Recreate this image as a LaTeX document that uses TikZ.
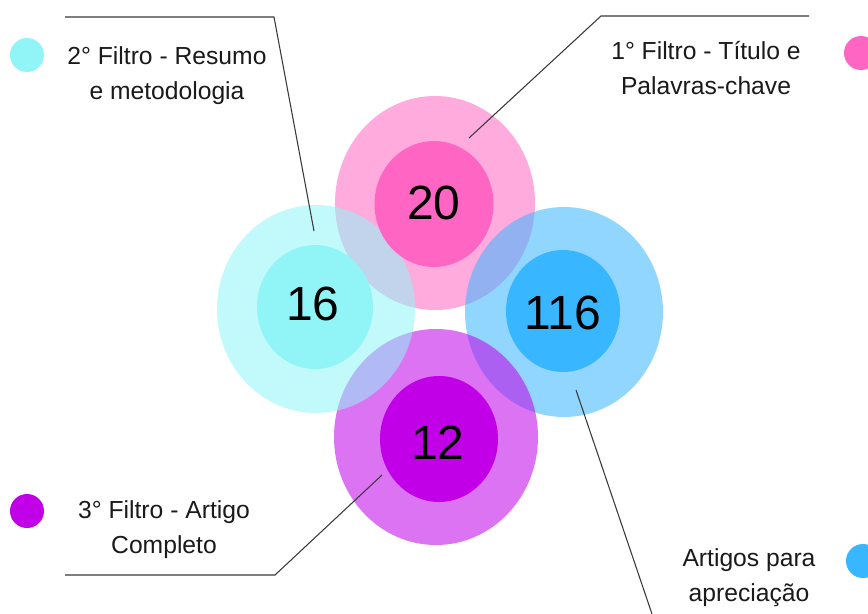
\documentclass[tikz,border=0pt]{standalone}
\usepackage{fontspec}
\setmainfont{Liberation Sans}
\definecolor{pinkD}{HTML}{FF66C4}
\definecolor{cyanD}{HTML}{91F5F8}
\definecolor{blueD}{HTML}{38B6FF}
\definecolor{purpD}{HTML}{C100E8}
\definecolor{lineC}{HTML}{3A3A3A}
\definecolor{txtC}{HTML}{1A1A1A}
\tikzset{
  outerc/.style={fill=#1, fill opacity=0.55, draw=none},
  innerc/.style={fill=#1, draw=none},
  numlbl/.style={font=\fontsize{36}{40}\selectfont, text=black, inner sep=0pt},
  legtxt/.style={font=\fontsize{18.5}{26.3}\selectfont, text=txtC, align=center, inner sep=0pt},
  legdot/.style={circle, fill=#1, draw=none, minimum size=25.5pt, inner sep=0pt},
  leader/.style={draw=lineC, line width=0.8pt}
}
\begin{document}
\begin{tikzpicture}[x=0.75pt,y=-0.75pt]
\useasboundingbox (0,0) rectangle (868,614);
\fill[white] (0,0) rectangle (868,614);
% outer circles (stacking: pink, blue, purple, cyan)
\fill[outerc=pinkD] (435,203) ellipse [x radius=100, y radius=107];
\fill[outerc=blueD] (564,312) ellipse [x radius=99, y radius=105];
\fill[outerc=purpD] (436,437) ellipse [x radius=102, y radius=108];
\fill[outerc=cyanD] (316,309) ellipse [x radius=99, y radius=104];
% inner circles
\fill[innerc=cyanD] (315,307) ellipse [x radius=58, y radius=62];
\fill[innerc=pinkD] (434,204) ellipse [x radius=59.5, y radius=63];
\fill[innerc=blueD] (563,311) ellipse [x radius=57, y radius=61];
\fill[innerc=purpD] (439,439) ellipse [x radius=59, y radius=63];
% numbers
\node[numlbl] (n20) at (434,203) {20};
\node[numlbl] (n16) at (313,304) {16};
\node[numlbl] (n116) at (563,313) {116};
\node[numlbl] (n12) at (438,443) {12};
% legend dots
\node[legdot=cyanD] (dcy) at (27,55) {};
\node[legdot=pinkD] (dpk) at (861,53) {};
\node[legdot=purpD] (dpu) at (27,511) {};
\node[legdot=blueD] (dbl) at (863,561) {};
% legend texts
\node[legtxt] (tcy) at (167,76) {2° Filtro - Resumo\\e metodologia};
\node[legtxt] (tpk) at (706,68) {1° Filtro - Título e\\Palavras-chave};
\node[legtxt] (tpu) at (164,530) {3° Filtro - Artigo\\Completo};
\node[legtxt] (tbl) at (749,578) {Artigos para\\apreciação};
% leader lines
\coordinate (a1) at (65,17);
\coordinate (a2) at (274,17);
\coordinate (a3) at (314,231);
\coordinate (b1) at (809,16);
\coordinate (b2) at (601,16);
\coordinate (b3) at (469,138);
\coordinate (c1) at (65,575);
\coordinate (c2) at (275,575);
\coordinate (c3) at (382,475);
\coordinate (d1) at (576,390);
\coordinate (d2) at (652,614);
\draw[leader] (a1) -- (a2) -- (a3);
\draw[leader] (b1) -- (b2) -- (b3);
\draw[leader] (c1) -- (c2) -- (c3);
\draw[leader] (d1) -- (d2);
\end{tikzpicture}
\end{document}
